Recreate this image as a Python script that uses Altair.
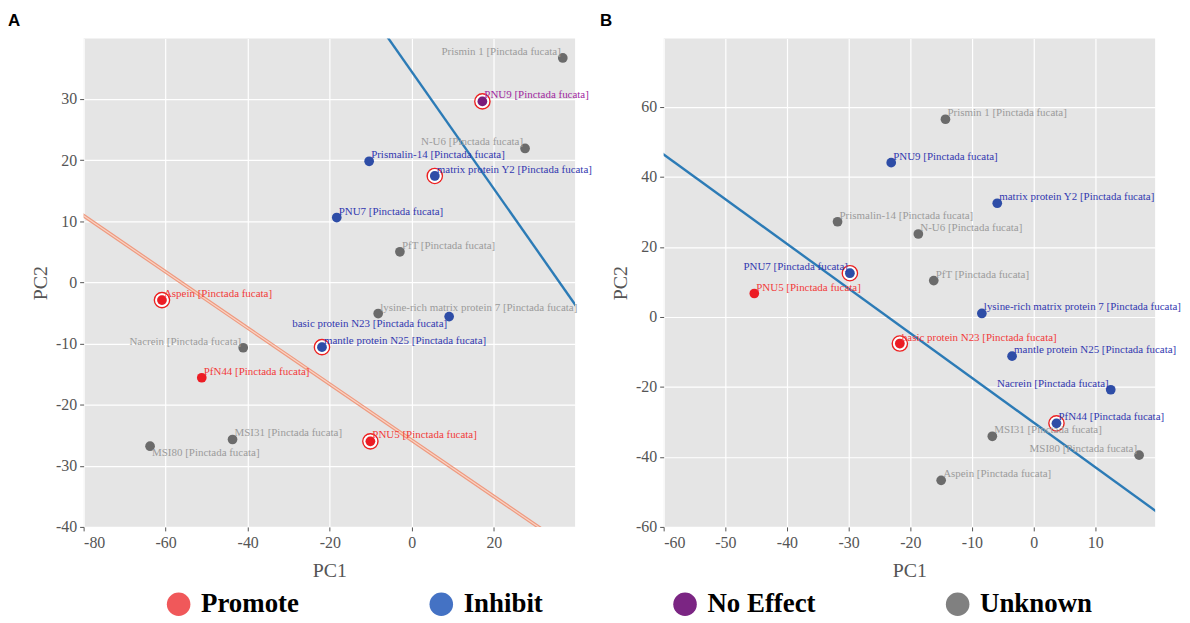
import altair as alt
import pandas as pd

# ---------------- data ----------------
NAMES_A = ["Prismin 1", "PNU9", "N-U6", "Prismalin-14", "matrix protein Y2", "PNU7", "PfT",
           "Aspein", "lysine-rich matrix protein 7", "basic protein N23", "Nacrein",
           "mantle protein N25", "PfN44", "MSI31", "MSI80", "PNU5"]
PC1_A = [36.8, 17.2, 27.6, -10.4, 5.6, -18.3, -2.9, -60.9, -8.2, 9.1, -41.1, -21.9, -51.2, -43.7, -63.8, -10.1]
PC2_A = [36.7, 29.6, 21.9, 19.8, 17.4, 10.6, 5.0, -2.9, -5.1, -5.6, -10.7, -10.6, -15.6, -25.7, -26.8, -26.0]
CAT_A = ["Unknown", "No Effect", "Unknown", "Inhibit", "Inhibit", "Inhibit", "Unknown", "Promote",
         "Unknown", "Inhibit", "Unknown", "Inhibit", "Promote", "Unknown", "Unknown", "Promote"]
RING_A = ["PNU9", "matrix protein Y2", "Aspein", "mantle protein N25", "PNU5"]

NAMES_B = ["Prismin 1", "PNU9", "matrix protein Y2", "Prismalin-14", "N-U6", "PNU7", "PfT", "PNU5",
           "lysine-rich matrix protein 7", "basic protein N23", "mantle protein N25", "Nacrein",
           "PfN44", "MSI31", "MSI80", "Aspein"]
PC1_B = [-14.3, -23.1, -5.9, -31.8, -18.7, -29.8, -16.2, -45.3, -8.4, -21.7, -3.5, 12.5, 3.7, -6.7, 17.1, -15.0]
PC2_B = [56.5, 44.1, 32.5, 27.2, 23.7, 12.5, 10.4, 6.7, 1.0, -7.6, -11.2, -20.8, -30.4, -34.1, -39.5, -46.7]
CAT_B = ["Unknown", "Inhibit", "Inhibit", "Unknown", "Unknown", "Inhibit", "Unknown", "Promote",
         "Inhibit", "Promote", "Inhibit", "Inhibit", "Inhibit", "Unknown", "Unknown", "Unknown"]
RING_B = ["PNU7", "basic protein N23", "PfN44"]

SPECIES = "[Pinctada fucata]"

# regression / boundary lines (endpoints, clipped to the panel)
LINE_A_BLUE_X = [-10.0, 45.0]
LINE_A_BLUE_Y = [44.0, -8.6]
LINE_A_RED_X = [-85.0, 45.0]
LINE_A_RED_Y = [13.2, -46.5]
LINE_B_BLUE_X = [-65.0, 25.0]
LINE_B_BLUE_Y = [52.8, -62.1]

CATEGORIES = ["Promote", "Inhibit", "No Effect", "Unknown"]
LEGEND_COLORS = ["#F0585A", "#4472C4", "#7B2583", "#808080"]
POINT_COLORS = {"Promote": "#EC1C24", "Inhibit": "#2E4DA7", "No Effect": "#7A1C7A", "Unknown": "#6B6B6B"}
TEXT_COLORS = {"Promote": "#F23A3A", "Inhibit": "#3238B0", "No Effect": "#A0279F", "Unknown": "#9B9B9B"}

# label placement (layout only)
PLACE_A = {"Prismin 1": "lu", "N-U6": "lu", "basic protein N23": "ld", "Nacrein": "lu", "MSI80": "rd"}
PLACE_B = {"PNU7": "lu", "Nacrein": "lu", "MSI80": "lu"}

SERIF = "Liberation Serif"


def make_df(names, xs, ys, cats, rings, place):
    return pd.DataFrame({
        "name": names,
        "label": [f"{n} {SPECIES}" for n in names],
        "x": xs, "y": ys, "cat": cats,
        "pcol": [POINT_COLORS[c] for c in cats],
        "tcol": [TEXT_COLORS[c] for c in cats],
        "ring": [n in rings for n in names],
        "pos": [place.get(n, "ru") for n in names],
    })


def panel(df, xdom, ydom, xticks, yticks, lines, tag, tag_dx, with_legend):
    xenc = alt.X("x:Q", scale=alt.Scale(domain=xdom, nice=False, zero=False),
                 axis=alt.Axis(values=xticks, title="PC1", labelExpr="'' + datum.value"))
    yenc = alt.Y("y:Q", scale=alt.Scale(domain=ydom, nice=False, zero=False),
                 axis=alt.Axis(values=yticks, title="PC2", labelExpr="'' + datum.value"))
    base = alt.Chart(df).encode(x=xenc, y=yenc)

    layers = []
    for lx, ly, col, w in lines:
        ldf = pd.DataFrame({"x": lx, "y": ly})
        layers.append(alt.Chart(ldf).mark_line(clip=True, color=col, strokeWidth=w)
                      .encode(x=xenc, y=yenc))
        if col == "#EE9A80":
            layers.append(alt.Chart(ldf).mark_line(clip=True, color="#F9D3C3", strokeWidth=1.2)
                          .encode(x=xenc, y=yenc))

    ringdf = base.transform_filter(alt.datum.ring)
    layers.append(ringdf.mark_point(shape="circle", filled=False, color="#EE2020",
                                    strokeWidth=1.4, size=235, opacity=1))
    layers.append(ringdf.mark_point(shape="circle", filled=False, color="white",
                                    strokeWidth=1.6, size=140, opacity=1))
    layers.append(base.mark_circle(size=95, opacity=1).encode(color=alt.Color("pcol:N", scale=None)))

    if with_legend:
        layers.append(base.mark_circle(opacity=0, size=10).encode(
            color=alt.Color("cat:N", scale=alt.Scale(domain=CATEGORIES, range=LEGEND_COLORS),
                            legend=alt.Legend(title=None, orient="none", legendX=82, legendY=555,
                                              direction="horizontal", symbolType="circle",
                                              symbolSize=560, symbolStrokeWidth=0, symbolOpacity=1,
                                              labelFont=SERIF, labelFontSize=27, labelFontWeight="bold",
                                              labelColor="black", labelOffset=9, columnPadding=129,
                                              labelLimit=300))))

    offs = {"ru": ("left", 2, -6), "rd": ("left", 2, 7), "lu": ("right", -2, -6), "ld": ("right", -2, 7)}
    for key, (al, dx, dy) in offs.items():
        layers.append(base.transform_filter(alt.datum.pos == key)
                      .mark_text(align=al, dx=dx, dy=dy, baseline="middle", font=SERIF, fontSize=11)
                      .encode(text="label:N", color=alt.Color("tcol:N", scale=None)))

    tagdf = pd.DataFrame({"t": [tag]})
    layers.append(alt.Chart(tagdf).mark_text(align="left", baseline="top", font="Liberation Sans",
                                             fontWeight="bold", fontSize=17, color="black")
                  .encode(x=alt.value(tag_dx), y=alt.value(-25), text="t:N"))

    return alt.layer(*layers).properties(width=494, height=491)


dfA = make_df(NAMES_A, PC1_A, PC2_A, CAT_A, RING_A, PLACE_A)
dfB = make_df(NAMES_B, PC1_B, PC2_B, CAT_B, RING_B, PLACE_B)

pA = panel(dfA, [-80, 39.8], [-40, 39.9], [-80, -60, -40, -20, 0, 20],
           [-40, -30, -20, -10, 0, 10, 20, 30],
           [(LINE_A_RED_X, LINE_A_RED_Y, "#EE9A80", 3.6),
            (LINE_A_BLUE_X, LINE_A_BLUE_Y, "#2C7BB6", 2.4)], "A", -76, True)
pB = panel(dfB, [-60, 19.7], [-60, 79.6], [-60, -50, -40, -30, -20, -10, 0, 10],
           [-60, -40, -20, 0, 20, 40, 60],
           [(LINE_B_BLUE_X, LINE_B_BLUE_Y, "#2C7BB6", 2.4)], "B", -64, False)

chart = (alt.hconcat(pA, pB, spacing=89, bounds="flush")
         .resolve_scale(x="independent", y="independent")
         .properties(padding={"left": 0, "top": 3, "right": 0, "bottom": 0})
         .configure_view(fill="#E5E5E5", stroke=None)
         .configure_axis(grid=True, gridColor="white", gridWidth=1.2, domain=False,
                         tickColor="#555555", tickSize=4, tickWidth=1,
                         labelFont=SERIF, labelFontSize=16, labelColor="#555555", labelPadding=4,
                         titleFont=SERIF, titleFontSize=20, titleFontWeight="normal",
                         titleColor="#555555", titlePadding=6)
         .configure_axisX(titlePadding=10)
         .configure_axisY(labelPadding=3, titlePadding=5))

chart.save("out.html", embed_options={"renderer": "svg", "actions": False})
